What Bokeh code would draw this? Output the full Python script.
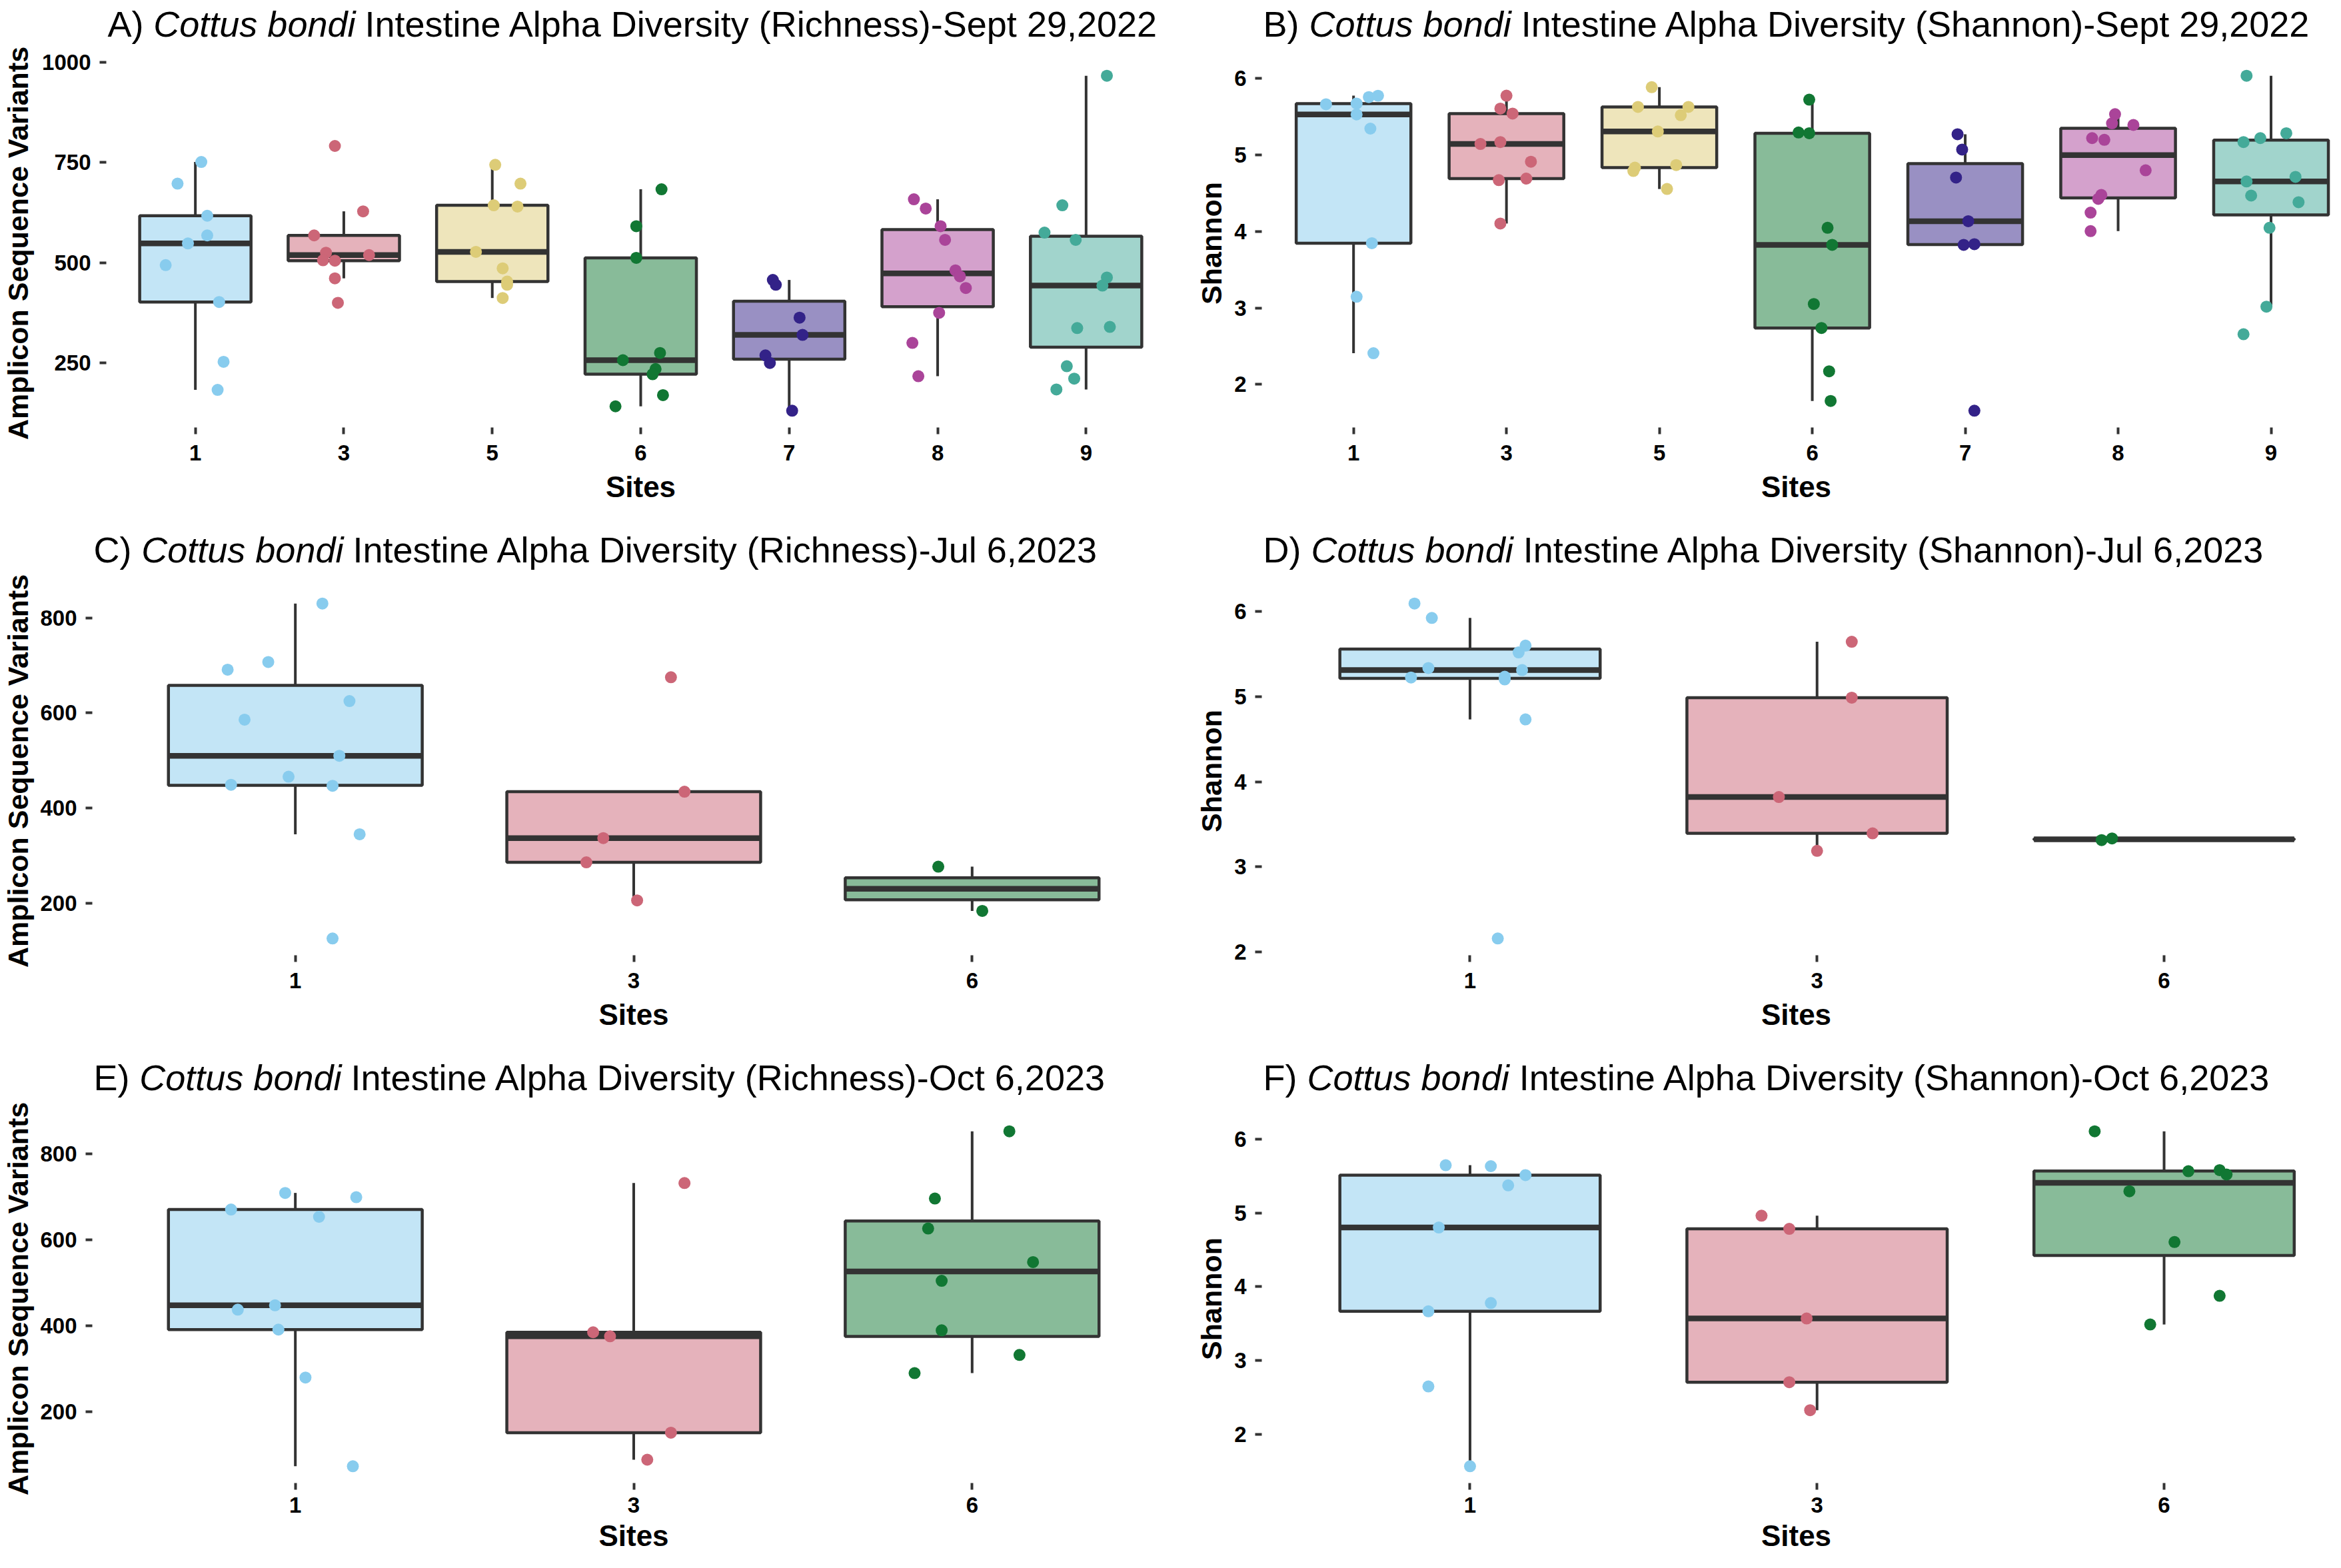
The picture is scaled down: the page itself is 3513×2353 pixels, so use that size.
import numpy as np
from bokeh.plotting import figure
from bokeh.models import FixedTicker, Range1d
from bokeh.core.properties import value
from bokeh.layouts import column, row
from bokeh.embed import file_html
from bokeh.resources import INLINE

# ---------------- data ----------------
site_colors = {"1": "#88CCEE", "3": "#CC6677", "5": "#DDCC77", "6": "#117733",
               "7": "#332288", "8": "#AA4499", "9": "#44AA99"}

sites_2022 = ["1", "3", "5", "6", "7", "8", "9"]
sites_2023 = ["1", "3", "6"]

# A) Richness, Sept 29 2022
rich_sep22 = {
    "1": [751, 697, 617, 568, 548, 494, 402, 253, 183],
    "3": [791, 568, 628, 525, 519, 506, 505, 461, 400],
    "5": [744, 697, 643, 640, 527, 486, 453, 445, 412],
    "6": [683, 591, 512, 275, 257, 235, 222, 170, 142],
    "7": [457, 445, 363, 320, 269, 250, 131],
    "8": [658, 635, 591, 557, 481, 466, 437, 375, 300, 217],
    "9": [966, 643, 575, 557, 463, 443, 337, 340, 242, 211, 184],
}
jit_rich_sep22 = {
    "1": [0.04, -0.12, 0.08, 0.08, -0.05, -0.20, 0.16, 0.19, 0.15],
    "3": [-0.06, -0.20, 0.13, -0.12, 0.17, -0.14, -0.06, -0.06, -0.04],
    "5": [0.02, 0.19, 0.01, 0.17, -0.11, 0.07, 0.10, 0.10, 0.07],
    "6": [0.14, -0.03, -0.03, 0.13, -0.12, 0.10, 0.08, 0.15, -0.17],
    "7": [-0.11, -0.09, 0.07, 0.09, -0.16, -0.13, 0.02],
    "8": [-0.16, -0.08, 0.02, 0.05, 0.12, 0.15, 0.19, 0.01, -0.17, -0.13],
    "9": [0.14, -0.16, -0.28, -0.07, 0.14, 0.11, -0.06, 0.16, -0.13, -0.08, -0.20],
}

# B) Shannon, Sept 29 2022
shan_sep22 = {
    "1": [5.661, 5.67, 5.755, 5.773, 5.528, 5.343, 3.846, 3.146, 2.408],
    "3": [5.773, 5.605, 5.54, 5.142, 5.167, 4.91, 4.67, 4.69, 4.103],
    "5": [5.884, 5.627, 5.627, 5.519, 5.305, 4.867, 4.833, 4.79, 4.554],
    "6": [5.721, 5.292, 5.283, 4.047, 3.824, 3.052, 2.738, 2.172, 1.785],
    "7": [5.27, 5.069, 4.704, 4.133, 3.824, 3.833, 1.657],
    "8": [5.532, 5.412, 5.391, 5.219, 5.197, 4.798, 4.476, 4.425, 4.245, 4.004],
    "9": [6.034, 5.283, 5.219, 5.167, 4.712, 4.652, 4.468, 4.382, 4.047, 3.017, 2.657],
}
jit_shan_sep22 = {
    "1": [-0.18, 0.02, 0.10, 0.16, 0.02, 0.11, 0.12, 0.02, 0.13],
    "3": [0.0, -0.04, 0.04, -0.17, -0.04, 0.16, -0.05, 0.13, -0.04],
    "5": [-0.05, -0.14, 0.19, 0.14, -0.01, 0.11, -0.16, -0.17, 0.05],
    "6": [-0.02, -0.09, -0.02, 0.10, 0.13, 0.01, 0.06, 0.11, 0.12],
    "7": [-0.05, -0.02, -0.06, 0.02, -0.01, 0.06, 0.06],
    "8": [-0.02, -0.04, 0.10, -0.17, -0.09, 0.18, -0.11, -0.13, -0.18, -0.18],
    "9": [-0.16, 0.10, -0.07, -0.18, 0.16, -0.16, -0.13, 0.18, -0.01, -0.03, -0.18],
}

# C) Richness, Jul 6 2023
rich_jul23 = {
    "1": [830, 707, 691, 625, 586, 510, 466, 449, 447, 345, 126],
    "3": [675, 434.5, 337, 286, 206],
    "6": [277, 184],
}
jit_rich_jul23 = {
    "1": [0.08, -0.08, -0.20, 0.16, -0.15, 0.13, -0.02, -0.19, 0.11, 0.19, 0.11],
    "3": [0.11, 0.15, -0.09, -0.14, 0.01],
    "6": [-0.10, 0.03],
}

# D) Shannon, Jul 6 2023
shan_jul23 = {
    "1": [6.095, 5.925, 5.60, 5.52, 5.337, 5.313, 5.226, 5.234, 5.203, 4.733, 2.159],
    "3": [5.645, 4.989, 3.821, 3.394, 3.189],
    "6": [3.315, 3.335],
}
jit_shan_jul23 = {
    "1": [-0.16, -0.11, 0.16, 0.14, -0.12, 0.15, -0.17, 0.10, 0.10, 0.16, 0.08],
    "3": [0.10, 0.10, -0.11, 0.16, 0.0],
    "6": [-0.18, -0.15],
}

# E) Richness, Oct 6 2023
rich_oct23 = {
    "1": [709.6, 699.6, 671, 654, 448, 438, 391.6, 280, 73.6],
    "3": [732.6, 385.4, 376, 151.7, 88.9],
    "6": [853, 696.6, 626.8, 548.7, 505, 390, 332.6, 290.4],
}
jit_rich_oct23 = {
    "1": [-0.03, 0.18, -0.19, 0.07, -0.06, -0.17, -0.05, 0.03, 0.17],
    "3": [0.15, -0.12, -0.07, 0.11, 0.04],
    "6": [0.11, -0.11, -0.13, 0.18, -0.09, -0.09, 0.14, -0.17],
}

# F) Shannon, Oct 6 2023
shan_oct23 = {
    "1": [5.647, 5.634, 5.513, 5.374, 4.802, 3.779, 3.667, 2.648, 1.566],
    "3": [4.963, 4.784, 3.569, 2.706, 2.326],
    "6": [6.107, 5.566, 5.58, 5.522, 5.294, 4.606, 3.877, 3.488],
}
jit_shan_oct23 = {
    "1": [-0.07, 0.06, 0.16, 0.11, -0.09, 0.06, -0.12, -0.12, 0.0],
    "3": [-0.16, -0.08, -0.03, -0.08, -0.02],
    "6": [-0.20, 0.07, 0.16, 0.18, -0.10, 0.03, 0.16, -0.04],
}

ticks_rich_2022 = [250, 500, 750, 1000]
ticks_rich_2023 = [200, 400, 600, 800]
ticks_shannon = [2, 3, 4, 5, 6]

species = "Cottus bondi"
titles = [
    ("A)", "Intestine Alpha Diversity (Richness)-Sept 29,2022"),
    ("B)", "Intestine Alpha Diversity (Shannon)-Sept 29,2022"),
    ("C)", "Intestine Alpha Diversity (Richness)-Jul 6,2023"),
    ("D)", "Intestine Alpha Diversity (Shannon)-Jul 6,2023"),
    ("E)", "Intestine Alpha Diversity (Richness)-Oct 6,2023"),
    ("F)", "Intestine Alpha Diversity (Shannon)-Oct 6,2023"),
]
ylab_rich = "Amplicon Sequence Variants"
ylab_shan = "Shannon"
xlab = "Sites"

# ---------------- styling ----------------
FONT = "Liberation Sans"
TITLE_SIZE = 54
DARK = "#333333"
TOP_PAD = 22          # room above each frame for the long y-axis label

ARIAL_W = {' ': 278, '(': 333, ')': 333, ',': 278, '-': 333, 'A': 667, 'B': 667, 'C': 722,
           'D': 722, 'E': 667, 'F': 611, 'I': 278, 'J': 500, 'O': 778, 'R': 722, 'S': 667,
           'a': 556, 'b': 556, 'c': 500, 'd': 556, 'e': 556, 'h': 556, 'i': 222, 'l': 222,
           'n': 556, 'o': 556, 'p': 556, 'r': 333, 's': 500, 't': 278, 'u': 556, 'v': 500,
           'y': 500}


def text_width(s, size):
    return sum(ARIAL_W.get(c, 556) for c in s) / 1000.0 * size


def box_stats(v):
    v = np.asarray(v, dtype=float)
    q1, med, q3 = np.percentile(v, [25, 50, 75])
    iqr = q3 - q1
    lo = v[v >= q1 - 1.5 * iqr].min()
    hi = v[v <= q3 + 1.5 * iqr].max()
    return q1, med, q3, lo, hi


def make_title(title, width, height, bl, br, base):
    fw = width - bl - br
    t = figure(width=width, height=height, output_backend="svg", toolbar_location=None,
               x_range=Range1d(0, fw), y_range=Range1d(0, height),
               x_axis_location=None, y_axis_location=None,
               min_border_left=bl, min_border_right=br, min_border_top=0, min_border_bottom=0)
    t.outline_line_color = None
    t.background_fill_color = "white"
    t.border_fill_color = "white"
    for g in t.grid:
        g.visible = False
    prefix, rest = title
    x0 = 2
    x1 = x0 + text_width(prefix + " ", TITLE_SIZE)
    x2 = x1 + text_width(species + " ", TITLE_SIZE)
    common = dict(text_font=value(FONT), text_font_size=f"{TITLE_SIZE}px",
                  text_color="black", text_align="left", text_baseline="alphabetic")
    t.text(x=[x0, x2], y=[base, base], text=[prefix, rest],
           text_font_style="normal", **common)
    t.text(x=[x1], y=[base], text=[species], text_font_style="italic", **common)
    return t


def make_panel(sites, vals, jit, yticks, ylabel, width, height,
               bl, br, bb, x_end, ylab_standoff, xl_standoff, xa_standoff):
    allv = np.concatenate([np.asarray(vals[s], float) for s in sites])
    vmin, vmax = allv.min(), allv.max()
    pad = 0.05 * (vmax - vmin)
    p = figure(width=width, height=height, output_backend="svg", toolbar_location=None,
               min_border_left=bl, min_border_right=br, min_border_top=TOP_PAD,
               min_border_bottom=bb, x_range=Range1d(-0.6, x_end),
               y_range=Range1d(vmin - pad, vmax + pad))
    p.outline_line_color = None
    p.xgrid.visible = False
    p.ygrid.visible = False
    p.background_fill_color = "white"
    p.border_fill_color = "white"

    hw = 0.375
    for i, s in enumerate(sites):
        q1, med, q3, lo, hi = box_stats(vals[s])
        col = site_colors[s]
        p.segment(x0=[i, i], y0=[q3, q1], x1=[i, i], y1=[hi, lo],
                  line_color=DARK, line_width=4)
        p.quad(left=[i - hw], right=[i + hw], bottom=[q1], top=[q3],
               fill_color=col, fill_alpha=0.5, line_color=DARK, line_width=4.5)
        p.segment(x0=[i - hw], y0=[med], x1=[i + hw], y1=[med],
                  line_color=DARK, line_width=8.5)
    for i, s in enumerate(sites):
        xs = [i + d for d in jit[s]]
        p.scatter(x=xs, y=vals[s], size=18, fill_color=site_colors[s],
                  line_color=None, marker="circle")

    xa = p.xaxis[0]
    ya = p.yaxis[0]
    xa.ticker = FixedTicker(ticks=list(range(len(sites))))
    xa.major_label_overrides = {i: s for i, s in enumerate(sites)}
    ya.ticker = FixedTicker(ticks=yticks)
    for ax in (xa, ya):
        ax.axis_line_color = None
        ax.major_tick_line_color = DARK
        ax.major_tick_line_width = 4
        ax.major_tick_out = 10
        ax.major_tick_in = 0
        ax.minor_tick_line_color = None
        ax.major_label_text_font = FONT
        ax.major_label_text_font_style = "bold"
        ax.major_label_text_font_size = "33px"
        ax.major_label_text_color = "black"
        ax.axis_label_text_font = FONT
        ax.axis_label_text_font_style = "bold"
        ax.axis_label_text_color = "black"
    xa.axis_label_text_font_size = "44px"
    ya.axis_label_text_font_size = "43px"
    xa.axis_label = xlab
    xa.major_label_standoff = xl_standoff
    xa.axis_label_standoff = xa_standoff
    ya.axis_label = ylabel
    ya.major_label_standoff = 13
    ya.axis_label_standoff = ylab_standoff
    return p


LW, RW = 1782, 1715
FRAME_H = 553
# (title strip height, title anchor, bottom border, tick-label standoff, axis-label standoff)
rows_spec = [(66, 30.5, 146, 16, 12), (71, 34, 146, 16, 12), (71, 34, 112, 11, 7)]

panels = [
    (sites_2022, rich_sep22, jit_rich_sep22, ticks_rich_2022, ylab_rich, LW, 154, 19, 6.6, 9),
    (sites_2022, shan_sep22, jit_shan_sep22, ticks_shannon, ylab_shan, RW, 111, 0, 6.39, 7),
    (sites_2023, rich_jul23, jit_rich_jul23, ticks_rich_2023, ylab_rich, LW, 133, 19, 2.6, 6),
    (sites_2023, shan_jul23, jit_shan_jul23, ticks_shannon, ylab_shan, RW, 111, 0, 2.48, 7),
    (sites_2023, rich_oct23, jit_rich_oct23, ticks_rich_2023, ylab_rich, LW, 133, 19, 2.6, 6),
    (sites_2023, shan_oct23, jit_shan_oct23, ticks_shannon, ylab_shan, RW, 111, 0, 2.48, 7),
]

row_items = []
for r in range(3):
    th, tb, bb, xls, xas = rows_spec[r]
    cells = []
    for c in range(2):
        k = 2 * r + c
        sites, vals, jit, yt, ylab, w, bl, br, xend, ls = panels[k]
        tfig = make_title(titles[k], w, th, bl, br, tb)
        pfig = make_panel(sites, vals, jit, yt, ylab, w, TOP_PAD + FRAME_H + bb,
                          bl, br, bb, xend, ls, xls, xas)
        cells.append(column(tfig, pfig, spacing=0))
    row_items.append(row(cells[0], cells[1], spacing=0))

layout = column(*row_items, spacing=0)
open("out.html", "w").write(file_html(layout, INLINE))
